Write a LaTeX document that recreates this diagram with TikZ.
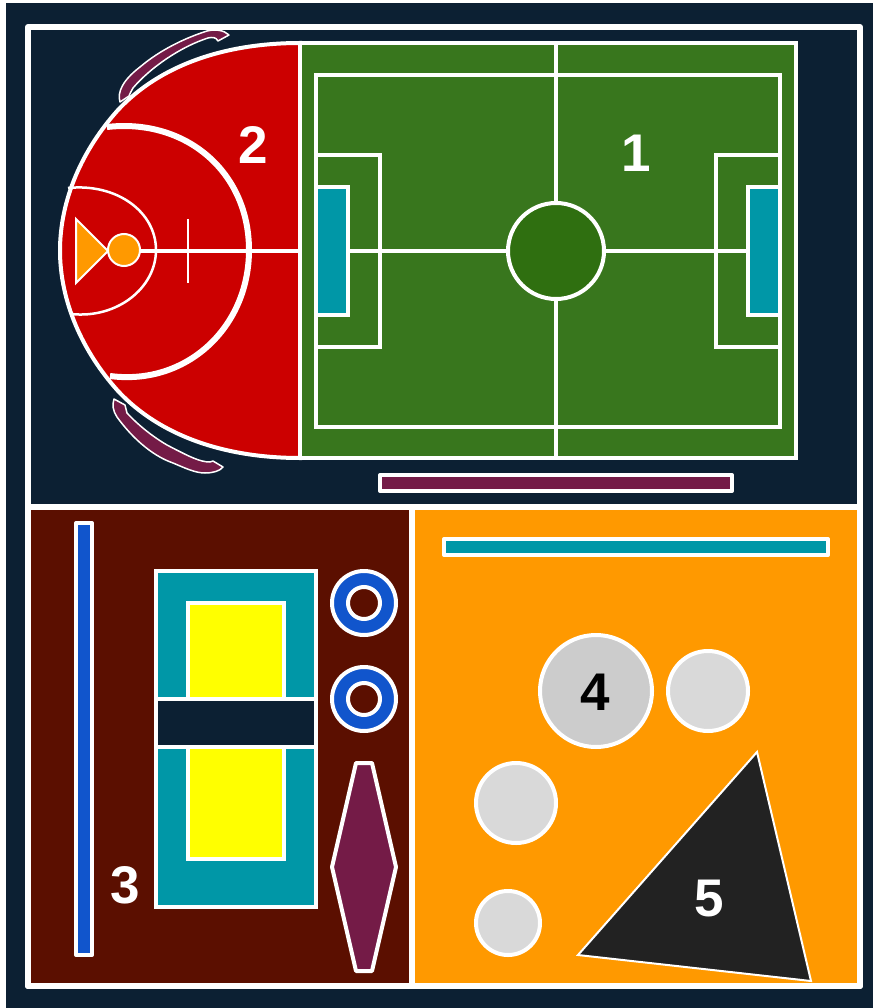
\documentclass[tikz,border=0pt]{standalone}
\usepackage{fontspec}
\setmainfont{Liberation Sans}
\definecolor{navy}{HTML}{0C2033}
\definecolor{grn}{HTML}{38761D}
\definecolor{dgrn}{HTML}{2F6F10}
\definecolor{redc}{HTML}{CC0000}
\definecolor{teal}{HTML}{0097A7}
\definecolor{plum}{HTML}{741B47}
\definecolor{maro}{HTML}{5B0F00}
\definecolor{oran}{HTML}{FF9900}
\definecolor{blu}{HTML}{1155CC}
\definecolor{ylw}{HTML}{FFFF00}
\definecolor{ball}{HTML}{D9D9D9}
\definecolor{ball2}{HTML}{CCCCCC}
\definecolor{blk}{HTML}{222222}
\tikzset{
 x=1pt,y=-1pt,
 every path/.style={line join=miter},
 wl/.style={draw=white,line width=4pt},
 num/.style={font=\bfseries\fontsize{53}{53}\selectfont,inner sep=0pt,text=white},
}
\begin{document}
\begin{tikzpicture}
\useasboundingbox (0,0) rectangle (873,1008);
\fill[white] (0,0) rectangle (873,1008);
\fill[navy] (6,3) rectangle (873,1008);
\draw[white,line width=6pt,fill=navy,line join=round] (28,27) rectangle (860,986);
% section backgrounds
\draw[white,line width=6pt,fill=maro,line join=round] (28,507) rectangle (412,986);
\draw[white,line width=6pt,fill=oran,line join=round] (412,507) rectangle (860,986);
% basketball
\draw[wl,fill=redc] (300,43) .. controls (225,43) and (160,65) .. (118,110) .. controls (82,150) and (60,200) .. (60,250.5) .. controls (60,301) and (82,351) .. (118,391) .. controls (160,436) and (225,458) .. (300,458) -- cycle;
\draw[white,line width=4pt] (140,250.5) -- (300,250.5);
\draw[white,line width=2pt] (188,219) -- (188,283);
\draw[white,line width=2.5pt] (68,188) .. controls (117,183) and (156,212) .. (156,250) .. controls (156,288) and (117,319) .. (71,314);
\draw[white,line width=6pt] (107,127) .. controls (186,118) and (249,172) .. (249,250) .. controls (249,328) and (186,386) .. (110,376);
\draw[white,line width=2pt,fill=oran] (76,219) -- (108,251) -- (76,283) -- cycle;
\draw[white,line width=2pt,fill=oran] (124,250) circle (16);
% arcs
\draw[white,line width=1.5pt,fill=plum,line join=round] (120,102) .. controls (117,92) and (123,80) .. (140,67) .. controls (160,50) and (185,38) .. (207,31) .. controls (215,29) and (224,30) .. (229,35) -- (218,41) .. controls (216,37) and (212,37) .. (208,38) .. controls (180,47) and (150,68) .. (133,88) .. controls (131,91) and (130,94) .. (129,96) -- cycle;
\draw[white,line width=1.5pt,fill=plum,line join=round] (114,399) .. controls (112,405) and (113,411) .. (117,417) .. controls (130,435) and (150,455) .. (173,463) .. controls (185,468) and (195,473) .. (205,473) .. controls (213,473) and (220,471) .. (223,467) -- (213,461) -- (210,462) .. controls (200,462) and (190,457) .. (167,445) .. controls (155,438) and (140,427) .. (127,413) -- (125,405) -- cycle;
% football
\draw[wl,fill=grn] (300,43) rectangle (796,458);
\draw[wl] (316,75) rectangle (780,427);
\draw[wl] (556,43) -- (556,458);
\draw[wl] (316,250.5) -- (780,250.5);
\draw[wl] (316,155) -- (380,155) -- (380,347) -- (316,347);
\draw[wl] (780,155) -- (716,155) -- (716,347) -- (780,347);
\draw[wl,fill=teal] (316,187) rectangle (348,315);
\draw[wl,fill=teal] (748,187) rectangle (780,315);
\draw[wl,fill=dgrn] (556,251) circle (48);
\draw[wl,fill=plum,line join=round] (380,475) rectangle (732,491);
% volleyball etc
\draw[wl,fill=blu,line join=round] (76,523) rectangle (92,955);
\draw[wl,fill=teal] (156,571) rectangle (316,907);
\draw[wl,fill=ylw] (188,603) rectangle (284,859);
\draw[wl,fill=navy] (156,699) rectangle (316,747);
\draw[wl,fill=blu] (364,603) circle (32);
\draw[wl,fill=maro] (364,603) circle (16);
\draw[wl,fill=blu] (364,699) circle (32);
\draw[wl,fill=maro] (364,699) circle (16);
\draw[wl,fill=plum,line join=round] (356,763) -- (372,763) -- (396,867) -- (372,971) -- (356,971) -- (332,867) -- cycle;
% right panel
\draw[wl,fill=teal,line join=round] (444,539) rectangle (828,555);
\draw[wl,fill=ball2] (596,691) circle (56);
\draw[wl,fill=ball] (708,691) circle (40);
\draw[wl,fill=ball] (516,803) circle (40);
\draw[wl,fill=ball] (508,923) circle (32);
\draw[white,line width=2pt,fill=blk] (757,752) -- (811,981) -- (578,955) -- cycle;
% labels
\node[num] (n1) at (636,153) {1};
\node[num] (n2) at (253,145) {2};
\node[num] (n3) at (125,885) {3};
\node[num,text=black] (n4) at (595,692) {4};
\node[num] (n5) at (709,899) {5};
\end{tikzpicture}
\end{document}
